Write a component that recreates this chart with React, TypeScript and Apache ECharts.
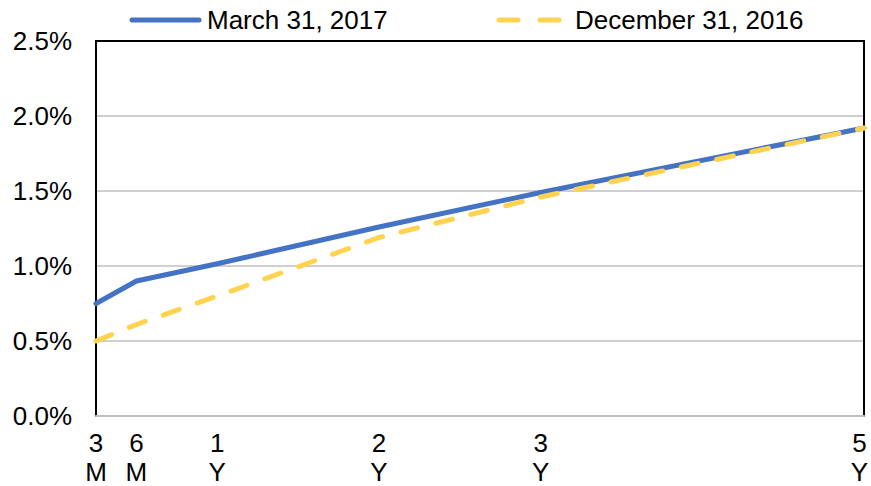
import React, { useEffect, useRef } from "react";
import * as echarts from "echarts";

const tenors = [0.25, 0.5, 1, 2, 3, 5];
const tenorLabels = ["3\nM", "6\nM", "1\nY", "2\nY", "3\nY", "5\nY"];
const march2017 = [0.75, 0.9, 1.015, 1.26, 1.49, 1.92];
const dec2016 = [0.5, 0.61, 0.8, 1.19, 1.46, 1.92];
const yTicks = [0, 0.5, 1, 1.5, 2, 2.5];
const seriesNames = ["March 31, 2017", "December 31, 2016"];

const FONT = "'Liberation Sans', Arial, sans-serif";
const BLUE = "#4472C4";
const YELLOW = "#FFD34F";

export default function App() {
  const ref = useRef<HTMLDivElement>(null);
  useEffect(() => {
    if (!ref.current) return;
    const chart = echarts.init(ref.current, undefined, { renderer: "svg" });
    const labelMap: Record<string, string> = {};
    tenors.forEach((t, i) => (labelMap[String(t)] = tenorLabels[i]));
    const lastTenor = tenors[tenors.length - 1];
    chart.setOption({
      animation: false,
      textStyle: { fontFamily: FONT },
      graphic: [
        {
          type: "line",
          shape: { x1: 132, y1: 20, x2: 199, y2: 20 },
          style: { stroke: BLUE, lineWidth: 5, lineCap: "round" },
        },
        {
          type: "text",
          x: 207,
          y: 20,
          style: {
            text: seriesNames[0],
            font: `26px ${FONT}`,
            fill: "#000",
            textVerticalAlign: "middle",
            verticalAlign: "middle",
          },
        },
        {
          type: "line",
          shape: { x1: 499, y1: 20, x2: 562, y2: 20 },
          style: { stroke: YELLOW, lineWidth: 5, lineCap: "round", lineDash: [19, 22] },
        },
        {
          type: "text",
          x: 575,
          y: 20,
          style: {
            text: seriesNames[1],
            font: `26px ${FONT}`,
            fill: "#000",
            textVerticalAlign: "middle",
            verticalAlign: "middle",
          },
        },
      ],
      grid: { left: 96, right: 7, top: 41, bottom: 70, outerBoundsMode: "none", containLabel: false },
      xAxis: [
        {
          type: "value",
          min: 0.25,
          max: 5,
          axisLine: { show: true, lineStyle: { color: "#BFBFBF", width: 2 } },
          axisTick: { show: false },
          splitLine: { show: false },
          axisLabel: {
            customValues: tenors,
            formatter: (v: number) => {
              const s = labelMap[String(v)] ?? "";
              if (v === lastTenor) {
                return s
                  .split("\n")
                  .map((p) => `{e|${p}}`)
                  .join("\n");
              }
              return s;
            },
            fontSize: 26,
            lineHeight: 29,
            color: "#000",
            margin: 12,
            fontFamily: FONT,
            rich: {
              e: {
                fontSize: 26,
                lineHeight: 29,
                color: "#000",
                fontFamily: FONT,
                padding: [0, 9, 0, 0],
              },
            },
          },
        },
        {
          type: "value",
          position: "top",
          min: 0.25,
          max: 5,
          axisLine: { show: true, onZero: false, lineStyle: { color: "#000", width: 2 } },
          axisTick: { show: false },
          axisLabel: { show: false },
          splitLine: { show: false },
        },
      ],
      yAxis: [
        {
          type: "value",
          min: 0,
          max: 2.5,
          interval: 0.5,
          axisLine: { show: true, onZero: false, lineStyle: { color: "#000", width: 2 } },
          axisTick: { show: false },
          splitLine: { show: true, lineStyle: { color: "#BFBFBF", width: 1.5 } },
          axisLabel: {
            formatter: (v: number) => (yTicks.includes(v) ? v.toFixed(1) + "%" : ""),
            fontSize: 26,
            color: "#000",
            margin: 24,
            fontFamily: FONT,
          },
        },
        {
          type: "value",
          position: "right",
          min: 0,
          max: 2.5,
          interval: 0.5,
          axisLine: { show: true, onZero: false, lineStyle: { color: "#000", width: 2 } },
          axisTick: { show: false },
          axisLabel: { show: false },
          splitLine: { show: false },
        },
      ],
      series: [
        {
          name: seriesNames[0],
          type: "line",
          data: tenors.map((t, i) => [t, march2017[i]]),
          showSymbol: false,
          symbol: "none",
          lineStyle: { color: BLUE, width: 5, cap: "round" },
          itemStyle: { color: BLUE },
          z: 2,
        },
        {
          name: seriesNames[1],
          type: "line",
          data: tenors.map((t, i) => [t, dec2016[i]]),
          showSymbol: false,
          symbol: "none",
          lineStyle: { color: YELLOW, width: 5, type: [17, 19], cap: "round" },
          itemStyle: { color: YELLOW },
          z: 3,
        },
      ],
    });
    return () => chart.dispose();
  }, []);
  return <div ref={ref} style={{ width: 871, height: 486, position: "absolute", left: 0, top: 0 }} />;
}
